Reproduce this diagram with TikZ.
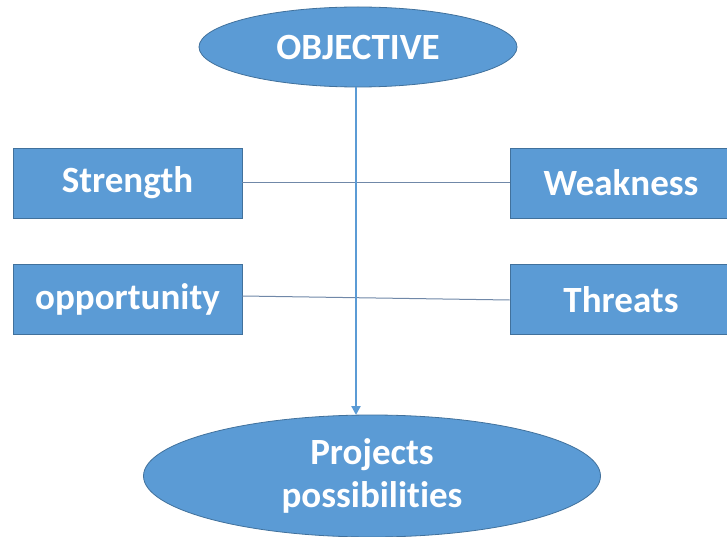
\documentclass[tikz,border=0pt]{standalone}
\usepackage{fontspec}
\setmainfont{Carlito}[RawFeature=-liga]
\usetikzlibrary{shapes.geometric,arrows.meta}
\definecolor{boxfill}{HTML}{5B9BD5}
\definecolor{boxline}{HTML}{41719C}
\definecolor{linkgray}{HTML}{7088A8}
\tikzset{
  base/.style={fill=boxfill, draw=boxline, line width=0.8pt, text=white,
    font=\fontsize{37}{43}\selectfont\bfseries, inner sep=0pt},
  swotbox/.style={base, rectangle, minimum height=70pt},
  oval/.style={base, ellipse, align=center},
  link/.style={draw=linkgray, line width=1pt},
  flow/.style={draw=boxfill, line width=2.4pt,
    -{Triangle[length=9pt,width=9pt]}}
}
\begin{document}
\begin{tikzpicture}[x=1pt,y=-1pt]
  \useasboundingbox (0,0) rectangle (727,537);
  \fill[white] (0,0) rectangle (727,537);

  % goal and outcome
  \node[oval, minimum width=318pt, minimum height=80pt] (obj) at (358,47) {OBJECTIVE};
  \node[oval, minimum width=457pt, minimum height=122pt] (proj) at (372,476)
    {Projects\\possibilities};

  % SWOT boxes
  \node[swotbox, minimum width=229pt] (str) at (127.5,183) {Strength};
  \node[swotbox, minimum width=222pt] (weak) at (621,183) {Weakness};
  \node[swotbox, minimum width=229pt] (opp) at (127.5,299.5) {opportunity};
  \node[swotbox, minimum width=222pt] (thr) at (621,299.5) {Threats};

  % cross links
  \draw[link] (str.east) -- (weak.west);
  \draw[link] ([yshift=3.5pt]opp.east) -- ([yshift=-0.5pt]thr.west);

  % main flow
  \coordinate (top) at (356,87);
  \coordinate (bot) at (356,415);
  \draw[flow] (top) -- (bot);
\end{tikzpicture}
\end{document}
